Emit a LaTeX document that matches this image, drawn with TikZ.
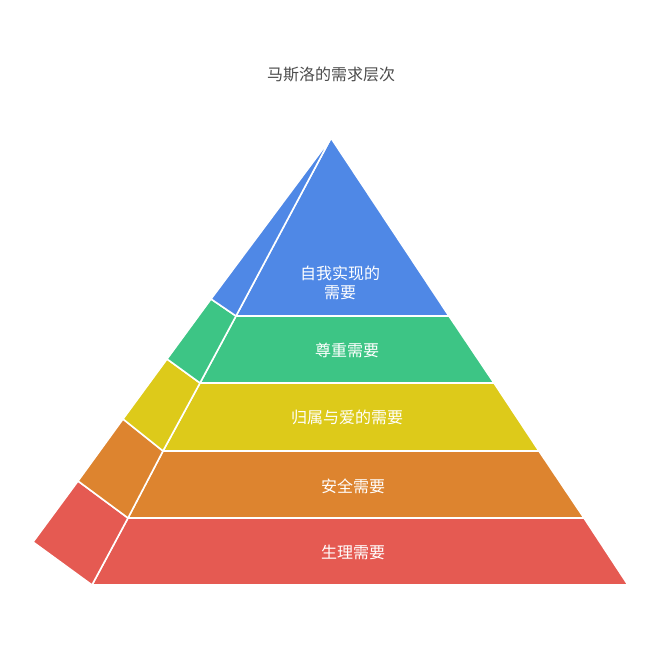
\documentclass[tikz,border=0pt]{standalone}
\usepackage{fontspec}
\newfontfamily\cjk{Noto Sans CJK SC}
\definecolor{lvblue}{HTML}{4F88E6}
\definecolor{lvgreen}{HTML}{3DC585}
\definecolor{lvyellow}{HTML}{DDCA1A}
\definecolor{lvorange}{HTML}{DD842F}
\definecolor{lvred}{HTML}{E55A52}
\tikzset{
  face/.style={draw=white,line width=1.6pt,line join=round},
  lbl/.style={text=white,font=\cjk\fontsize{16}{19}\selectfont,align=center},
}
\begin{document}
\begin{tikzpicture}[x=1pt,y=-1pt]
\useasboundingbox (0,0) rectangle (663,648);

% Title
\node[font=\cjk\fontsize{16}{19}\selectfont,text=black!70] (title) at (331,75) {马斯洛的需求层次};

% Layer: physiological
\fill[lvred,face] (128,518) -- (92,585) -- (628,585) -- (584,518) -- cycle;
\fill[lvred,face] (78,481) -- (33,542) -- (92,585) -- (128,518) -- cycle;
% Layer: safety
\fill[lvorange,face] (163,451) -- (128,518) -- (584,518) -- (539,451) -- cycle;
\fill[lvorange,face] (123,419) -- (78,481) -- (128,518) -- (163,451) -- cycle;
% Layer: belonging
\fill[lvyellow,face] (200,383) -- (163,451) -- (539,451) -- (494,383) -- cycle;
\fill[lvyellow,face] (167,359) -- (123,419) -- (163,451) -- (200,383) -- cycle;
% Layer: esteem
\fill[lvgreen,face] (236,316) -- (200,383) -- (494,383) -- (449,316) -- cycle;
\fill[lvgreen,face] (211,299) -- (167,359) -- (200,383) -- (236,316) -- cycle;
% Layer: self-actualization
\fill[lvblue,face] (331,138) -- (236,316) -- (449,316) -- cycle;
\fill[lvblue,face] (331,138) -- (211,299) -- (236,316) -- cycle;

% Labels
\node[lbl] (self) at (340,283) {自我实现的\\需要};
\node[lbl] (esteem) at (347,350) {尊重需要};
\node[lbl] (belong) at (347,417) {归属与爱的需要};
\node[lbl] (safety) at (353,486) {安全需要};
\node[lbl] (physio) at (353,552) {生理需要};
\end{tikzpicture}
\end{document}
